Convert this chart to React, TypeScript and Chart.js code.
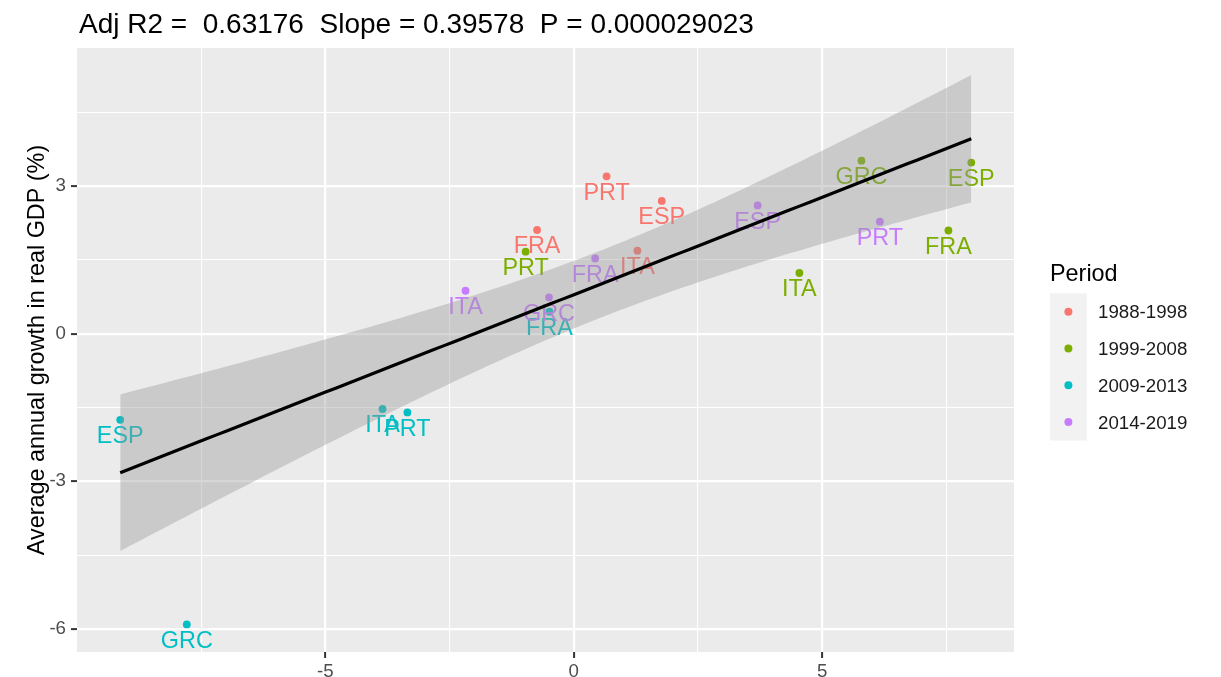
import React, { useEffect, useRef } from 'react';
import { Chart, registerables } from 'chart.js';

Chart.register(...registerables);

// ---------- data ----------
const PERIODS = ['1988-1998', '1999-2008', '2009-2013', '2014-2019'];
const PERIOD_COLORS = ['#F8766D', '#7CAE00', '#00BFC4', '#C77CFF'];

const COUNTRIES_1988 = ['PRT', 'ESP', 'FRA', 'ITA'];
const X_1988 = [0.66, 1.77, -0.74, 1.28];
const Y_1988 = [3.2, 2.7, 2.11, 1.69];

const COUNTRIES_1999 = ['GRC', 'ESP', 'FRA', 'ITA', 'PRT'];
const X_1999 = [5.79, 8.0, 7.54, 4.54, -0.97];
const Y_1999 = [3.52, 3.48, 2.1, 1.235, 1.67];

const COUNTRIES_2009 = ['ESP', 'GRC', 'ITA', 'PRT', 'FRA'];
const X_2009 = [-9.13, -7.79, -3.85, -3.35, -0.49];
const Y_2009 = [-1.75, -5.91, -1.53, -1.6, 0.45];

const COUNTRIES_2014 = ['ITA', 'GRC', 'FRA', 'ESP', 'PRT'];
const X_2014 = [-2.18, -0.5, 0.43, 3.7, 6.16];
const Y_2014 = [0.875, 0.74, 1.53, 2.61, 2.28];

const X_TICKS = [-7.5, -5, -2.5, 0, 2.5, 5, 7.5];
const X_TICK_LABELS = [-5, 0, 5];
const Y_TICKS = [-6, -4.5, -3, -1.5, 0, 1.5, 3, 4.5];
const Y_TICK_LABELS = [-6, -3, 0, 3];

const X_MIN = -10.0;
const X_MAX = 8.86;
const Y_MIN = -6.47;
const Y_MAX = 5.81;

const TITLE = 'Adj R2 =  0.63176  Slope = 0.39578  P = 0.000029023';
const Y_TITLE = 'Average annual growth in real GDP (%)';
const LEGEND_TITLE = 'Period';

const NUDGE_Y = -0.3;
const T_CRIT = 2.1098; // t(0.975, df = 17)
const SMOOTH_N = 80;

// ---------- helpers ----------
const FAMILY = "'Liberation Sans', Arial, sans-serif";
const SERIES = [
  { names: COUNTRIES_1988, x: X_1988, y: Y_1988 },
  { names: COUNTRIES_1999, x: X_1999, y: Y_1999 },
  { names: COUNTRIES_2009, x: X_2009, y: Y_2009 },
  { names: COUNTRIES_2014, x: X_2014, y: Y_2014 },
];

function linearFit() {
  const xs: number[] = [];
  const ys: number[] = [];
  SERIES.forEach((s) => {
    s.x.forEach((v, i) => {
      xs.push(v);
      ys.push(s.y[i]);
    });
  });
  const n = xs.length;
  const mx = xs.reduce((a, b) => a + b, 0) / n;
  const my = ys.reduce((a, b) => a + b, 0) / n;
  let sxx = 0;
  let sxy = 0;
  for (let i = 0; i < n; i++) {
    sxx += (xs[i] - mx) ** 2;
    sxy += (xs[i] - mx) * (ys[i] - my);
  }
  const b = sxy / sxx;
  const a = my - b * mx;
  let sse = 0;
  for (let i = 0; i < n; i++) sse += (ys[i] - a - b * xs[i]) ** 2;
  const s = Math.sqrt(sse / (n - 2));
  const lo = Math.min(...xs);
  const hi = Math.max(...xs);
  const fit: { x: number; y: number }[] = [];
  const upper: { x: number; y: number }[] = [];
  const lower: { x: number; y: number }[] = [];
  for (let k = 0; k < SMOOTH_N; k++) {
    const x = lo + ((hi - lo) * k) / (SMOOTH_N - 1);
    const yhat = a + b * x;
    const se = s * Math.sqrt(1 / n + (x - mx) ** 2 / sxx);
    fit.push({ x, y: yhat });
    upper.push({ x, y: yhat + T_CRIT * se });
    lower.push({ x, y: yhat - T_CRIT * se });
  }
  return { fit, upper, lower };
}

const BAND_UPPER_INDEX = 4;

const bgPlugin = {
  id: 'panelBg',
  beforeDraw(chart: any) {
    const { ctx, chartArea } = chart;
    ctx.save();
    ctx.fillStyle = '#FFFFFF';
    ctx.fillRect(0, 0, chart.width, chart.height);
    ctx.fillStyle = '#EBEBEB';
    ctx.fillRect(chartArea.left, chartArea.top, chartArea.right - chartArea.left, chartArea.bottom - chartArea.top);
    ctx.restore();
  },
};

const LABEL_FONT = 23.4;
const labelPlugin = {
  id: 'pointLabels',
  beforeDatasetDraw(chart: any, args: any) {
    if (args.index !== BAND_UPPER_INDEX) return;
    const { ctx, chartArea, scales } = chart;
    ctx.save();
    ctx.beginPath();
    ctx.rect(chartArea.left, chartArea.top, chartArea.right - chartArea.left, chartArea.bottom - chartArea.top);
    ctx.clip();
    ctx.font = `${LABEL_FONT}px ${FAMILY}`;
    ctx.textAlign = 'center';
    ctx.textBaseline = 'alphabetic';
    SERIES.forEach((s, si) => {
      ctx.fillStyle = PERIOD_COLORS[si];
      s.names.forEach((name, i) => {
        const px = scales.x.getPixelForValue(s.x[i]);
        const py = scales.y.getPixelForValue(s.y[i] + NUDGE_Y);
        ctx.fillText(name, px, py + LABEL_FONT * 0.358);
      });
    });
    ctx.restore();
  },
};

const textPlugin = {
  id: 'ggText',
  afterDraw(chart: any) {
    const { ctx, chartArea } = chart;
    ctx.save();
    // title
    ctx.fillStyle = '#000000';
    ctx.font = `28px ${FAMILY}`;
    ctx.textAlign = 'left';
    ctx.textBaseline = 'alphabetic';
    ctx.fillText(TITLE, chartArea.left + 2, 33);

    // y axis title
    ctx.save();
    ctx.translate(43.5, (chartArea.top + chartArea.bottom) / 2);
    ctx.rotate(-Math.PI / 2);
    ctx.font = `23.4px ${FAMILY}`;
    ctx.textAlign = 'center';
    ctx.fillText(Y_TITLE, 0, 0);
    ctx.restore();

    // legend
    const lx = 1050;
    ctx.font = `23.4px ${FAMILY}`;
    ctx.textAlign = 'left';
    ctx.fillStyle = '#000000';
    ctx.fillText(LEGEND_TITLE, lx, 281);
    const keyTop = 293.3;
    const keySize = 36.8;
    ctx.fillStyle = '#F2F2F2';
    ctx.fillRect(lx, keyTop, keySize, keySize * PERIODS.length);
    PERIODS.forEach((p, i) => {
      const cy = keyTop + keySize / 2 + i * keySize;
      ctx.fillStyle = PERIOD_COLORS[i];
      ctx.beginPath();
      ctx.arc(lx + keySize / 2, cy, 4, 0, Math.PI * 2);
      ctx.fill();
      ctx.fillStyle = '#1A1A1A';
      ctx.font = `18.7px ${FAMILY}`;
      ctx.fillText(p, 1098, cy + 18.7 * 0.358);
    });
    ctx.restore();
  },
};

function gridOpts(majors: number[]) {
  return {
    color: '#FFFFFF',
    lineWidth: (c: any) => (c.tick && majors.includes(c.tick.value) ? 2.2 : 1.1),
    drawTicks: true,
    tickLength: 6,
    tickWidth: 2,
    tickColor: (c: any) => (c.tick && majors.includes(c.tick.value) ? '#333333' : 'rgba(0,0,0,0)'),
  };
}

export default function App() {
  const ref = useRef<HTMLCanvasElement>(null);

  useEffect(() => {
    if (!ref.current) return;
    const { fit, upper, lower } = linearFit();
    const scatterSets = SERIES.map((s, si) => ({
      type: 'scatter' as const,
      label: PERIODS[si],
      data: s.x.map((x, i) => ({ x, y: s.y[i] })),
      backgroundColor: PERIOD_COLORS[si],
      borderWidth: 0,
      pointRadius: 3.9,
      pointHoverRadius: 3.9,
      order: 10,
    }));
    const chart = new Chart(ref.current, {
      type: 'scatter',
      data: {
        datasets: [
          ...scatterSets,
          {
            type: 'line',
            label: 'upper',
            data: upper,
            borderWidth: 0,
            borderColor: 'rgba(0,0,0,0)',
            pointRadius: 0,
            fill: false,
            order: 5,
          },
          {
            type: 'line',
            label: 'lower',
            data: lower,
            borderWidth: 0,
            borderColor: 'rgba(0,0,0,0)',
            backgroundColor: 'rgba(153,153,153,0.4)',
            pointRadius: 0,
            fill: '-1',
            order: 4,
          },
          {
            type: 'line',
            label: 'fit',
            data: fit,
            borderWidth: 3.2,
            borderColor: '#000000',
            pointRadius: 0,
            fill: false,
            order: 1,
          },
        ] as any,
      },
      options: {
        responsive: false,
        animation: false,
        devicePixelRatio: 1,
        layout: { padding: { left: 0, top: 48, right: 207, bottom: 0 } },
        plugins: {
          legend: { display: false },
          tooltip: { enabled: false },
          title: { display: false },
        },
        scales: {
          x: {
            type: 'linear',
            min: X_MIN,
            max: X_MAX,
            afterFit: (s: any) => {
              s.height = 25;
            },
            afterBuildTicks: (s: any) => {
              s.ticks = X_TICKS.map((v) => ({ value: v }));
            },
            grid: gridOpts(X_TICK_LABELS),
            border: { display: false },
            ticks: {
              autoSkip: false,
              maxRotation: 0,
              padding: 3,
              color: '#4D4D4D',
              font: { family: FAMILY, size: 18.7 },
              callback: (v: any) => (X_TICK_LABELS.includes(Number(v)) ? String(v) : ''),
            },
          },
          y: {
            type: 'linear',
            min: Y_MIN,
            max: Y_MAX,
            afterFit: (s: any) => {
              s.width = 77;
            },
            afterBuildTicks: (s: any) => {
              s.ticks = Y_TICKS.map((v) => ({ value: v }));
            },
            grid: gridOpts(Y_TICK_LABELS),
            border: { display: false },
            ticks: {
              autoSkip: false,
              padding: 5,
              color: '#4D4D4D',
              font: { family: FAMILY, size: 18.7 },
              callback: (v: any) => (Y_TICK_LABELS.includes(Number(v)) ? String(v) : ''),
            },
          },
        },
      } as any,
      plugins: [bgPlugin, labelPlugin, textPlugin],
    });
    return () => chart.destroy();
  }, []);

  return (
    <div style={{ position: 'absolute', left: 0, top: 0, width: 1221, height: 677, background: '#FFFFFF' }}>
      <canvas ref={ref} width={1221} height={677} style={{ width: 1221, height: 677, display: 'block' }} />
    </div>
  );
}
